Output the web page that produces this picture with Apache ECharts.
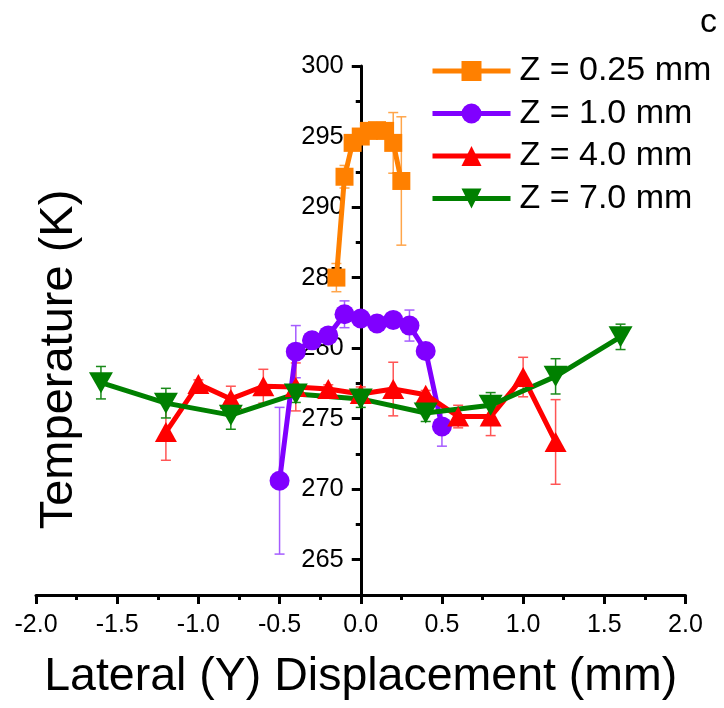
<!DOCTYPE html>
<html>
<head>
<meta charset="utf-8">
<script src="https://cdn.jsdelivr.net/npm/echarts@6/dist/echarts.min.js"></script>
<style>
  html, body { margin: 0; padding: 0; background: #fff; }
  #chart { width: 724px; height: 708px; }
</style>
</head>
<body>
<div id="chart"></div>
<script>
// ---- Data ----
const seriesNames = ['Z = 0.25 mm', 'Z = 1.0 mm', 'Z = 4.0 mm', 'Z = 7.0 mm'];

const orangeX   = [-0.15, -0.10, -0.05, 0.00, 0.05, 0.10, 0.15, 0.20, 0.25];
const orangeT   = [285.0, 292.15, 294.55, 295.0, 295.4, 295.45, 295.4, 294.55, 291.85];
const orangeErr = [1.0, 0.8, 0.3, 0.3, 0.2, 0.2, 0.2, 2.15, 4.55];

const purpleX   = [-0.5, -0.4, -0.3, -0.2, -0.1, 0.0, 0.1, 0.2, 0.3, 0.4, 0.5];
const purpleT   = [270.6, 279.75, 280.55, 280.9, 282.4, 282.1, 281.75, 282.0, 281.6, 279.8, 274.45];
const purpleErr = [5.2, 1.85, 0.3, 0.3, 0.95, 0.3, 0.3, 0.3, 1.1, 0.3, 1.4];

const redX   = [-1.2, -1.0, -0.8, -0.6, -0.4, -0.2, 0.0, 0.2, 0.4, 0.6, 0.8, 1.0, 1.2];
const redT   = [274.05, 277.45, 276.4, 277.3, 277.25, 277.1, 276.75, 277.1, 276.7, 275.15, 275.15, 277.95, 273.35];
const redErr = [2.0, 0.3, 0.9, 1.2, 1.7, 0.3, 0.5, 1.9, 0.3, 0.8, 1.35, 1.4, 3.0];

const greenX   = [-1.6, -1.2, -0.8, -0.4, 0.0, 0.4, 0.8, 1.2, 1.6];
const greenT   = [277.55, 276.1, 275.25, 276.75, 276.4, 275.4, 275.95, 278.0, 280.8];
const greenErr = [1.15, 1.05, 1.0, 0.6, 0.6, 0.6, 0.9, 1.25, 0.9];

const xMin = -2, xMax = 2, xStep = 0.5;
const yMin = 262.5, yMax = 300, yStep = 5;

// ---- Layout ----
const W = 724, H = 708;
const gridLeft = 36, gridRight = 38.5, gridTop = 66, gridBottom = 113;
// y axis sits at x = 0: shift it from the grid's left edge by the fraction of the x range
const yAxisShift = (W - gridLeft - gridRight) * (0 - xMin) / (xMax - xMin);

// ---- Helpers ----
const FONT = 'Arial, "Liberation Sans", Helvetica, sans-serif';
const DOWN_TRI = 'path://M0,0L24,0L12,21Z';

function pairs(xs, ys) { return xs.map((x, i) => [x, ys[i]]); }
function errData(xs, ys, es) { return xs.map((x, i) => [x, ys[i] - es[i], ys[i] + es[i]]); }

function lineSeries(name, xs, ys, color, symbol, size) {
  return {
    name: name, type: 'line', data: pairs(xs, ys), z: 3,
    symbol: symbol, symbolSize: size, showSymbol: true,
    lineStyle: { color: color, width: 5 },
    itemStyle: { color: color, borderWidth: 0 },
    emphasis: { disabled: true },
    animation: false
  };
}

function errorSeries(name, xs, ys, es, color) {
  return {
    name: name + ' err', type: 'custom', z: 2, silent: true, animation: false,
    data: errData(xs, ys, es),
    encode: { x: 0, y: [1, 2] },
    renderItem: function (params, api) {
      const x = api.value(0);
      const top = api.coord([x, api.value(2)]);
      const bot = api.coord([x, api.value(1)]);
      const hw = 5;
      const st = { stroke: color, lineWidth: 1.5 };
      return {
        type: 'group',
        children: [
          { type: 'line', shape: { x1: top[0], y1: top[1], x2: bot[0], y2: bot[1] }, style: st },
          { type: 'line', shape: { x1: top[0] - hw, y1: top[1], x2: top[0] + hw, y2: top[1] }, style: st },
          { type: 'line', shape: { x1: bot[0] - hw, y1: bot[1], x2: bot[0] + hw, y2: bot[1] }, style: st }
        ]
      };
    }
  };
}

const chart = echarts.init(document.getElementById('chart'), null, { renderer: 'canvas' });

const axisCommon = {
  type: 'value',
  splitLine: { show: false },
  axisTick: { show: true, inside: false, length: 9, lineStyle: { color: '#000', width: 3 } },
  minorTick: { show: true, splitNumber: 2, length: 5, lineStyle: { color: '#000', width: 3 } },
  minorSplitLine: { show: false }
};

const option = {
  backgroundColor: '#fff',
  animation: false,
  textStyle: { fontFamily: FONT },
  title: {
    text: 'c', right: 2, top: 1,
    textStyle: { fontFamily: FONT, fontSize: 34, fontWeight: 'normal', color: '#000' }
  },
  grid: { left: gridLeft, right: gridRight, top: gridTop, bottom: gridBottom, containLabel: false, outerBoundsMode: 'none' },
  legend: {
    orient: 'vertical', left: 430, top: 54, padding: 0,
    itemWidth: 78, itemHeight: 25, itemGap: 8.5,
    data: seriesNames,
    lineStyle: { width: 5 },
    textStyle: { fontFamily: FONT, fontSize: 34, color: '#000', padding: [0, 0, 0, 4] },
    selectedMode: false
  },
  xAxis: Object.assign({}, axisCommon, {
    min: xMin, max: xMax, interval: xStep,
    axisLine: { show: true, onZero: false, lineStyle: { color: '#000', width: 3 } },
    axisLabel: {
      margin: 18, fontSize: 25, color: '#000', fontFamily: FONT,
      formatter: v => v.toFixed(1)
    },
    name: 'Lateral (Y) Displacement (mm)',
    nameLocation: 'middle', nameGap: 59,
    nameTextStyle: { fontSize: 46.5, color: '#000', fontFamily: FONT }
  }),
  yAxis: Object.assign({}, axisCommon, {
    min: yMin, max: yMax, minInterval: yStep, maxInterval: yStep, splitNumber: 8,
    offset: -yAxisShift,
    axisLine: { show: true, onZero: false, lineStyle: { color: '#000', width: 3 } },
    axisLabel: {
      margin: 17, fontSize: 25.5, color: '#000', fontFamily: FONT,
      showMinLabel: false,
      formatter: v => (Math.abs(v % 5) < 1e-6 ? String(Math.round(v)) : '')
    },
    name: 'Temperature (K)',
    nameLocation: 'middle', nameGap: 278,
    nameTextStyle: { fontSize: 47, color: '#000', fontFamily: FONT, padding: [0, 58, 0, 0] }
  }),
  series: [
    errorSeries(seriesNames[0], orangeX, orangeT, orangeErr, '#FFA54A'),
    errorSeries(seriesNames[1], purpleX, purpleT, purpleErr, '#A55CFF'),
    errorSeries(seriesNames[2], redX, redT, redErr, '#FF5555'),
    errorSeries(seriesNames[3], greenX, greenT, greenErr, '#1A8A1A'),
    lineSeries(seriesNames[0], orangeX, orangeT, '#FF8000', 'rect', 18),
    lineSeries(seriesNames[1], purpleX, purpleT, '#8000FF', 'circle', 20),
    lineSeries(seriesNames[2], redX, redT, '#FF0000', 'triangle', [22, 20]),
    lineSeries(seriesNames[3], greenX, greenT, '#008000', DOWN_TRI, [24, 21])
  ]
};

chart.setOption(option);
</script>
</body>
</html>
